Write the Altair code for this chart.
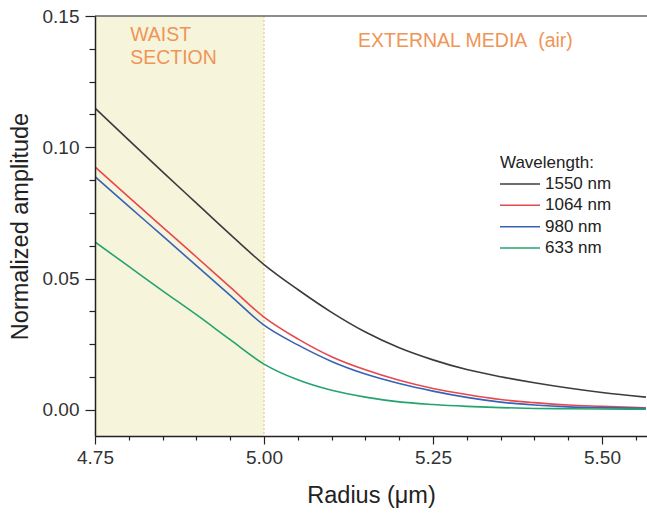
import altair as alt
import pandas as pd

# ---------------- data ----------------
radius = [4.75, 4.80, 4.85, 4.90, 4.95, 5.00, 5.05, 5.10, 5.15, 5.20,
          5.25, 5.30, 5.35, 5.40, 5.45, 5.50, 5.565]
amp_1550 = [0.1149, 0.1027, 0.0906, 0.0787, 0.0668, 0.0553, 0.0458, 0.0371, 0.0296, 0.0236,
            0.0190, 0.0153, 0.0126, 0.0103, 0.0083, 0.0066, 0.0048]
amp_1064 = [0.0925, 0.0810, 0.0696, 0.0582, 0.0467, 0.0353, 0.0270, 0.0202, 0.0152, 0.0112,
            0.0081, 0.0058, 0.0039, 0.0027, 0.0018, 0.0013, 0.0007]
amp_980 = [0.0888, 0.0775, 0.0662, 0.0549, 0.0436, 0.0322, 0.0247, 0.0184, 0.0136, 0.0100,
           0.0071, 0.0047, 0.0029, 0.0018, 0.0011, 0.0008, 0.0005]
amp_633 = [0.0639, 0.0546, 0.0453, 0.0362, 0.0267, 0.0174, 0.0114, 0.0074, 0.0048, 0.0030,
           0.0020, 0.0013, 0.0008, 0.0005, 0.0004, 0.0003, 0.0002]

wavelengths = ["1550 nm", "1064 nm", "980 nm", "633 nm"]
line_colors = ["#3c3c3c", "#e8474c", "#3763b4", "#23a36e"]

waist_start = [4.75]
waist_end = [5.00]

x_ticks = [4.75, 4.80, 4.85, 4.90, 4.95, 5.00, 5.05, 5.10, 5.15, 5.20,
           5.25, 5.30, 5.35, 5.40, 5.45, 5.50, 5.55]
y_ticks = [0.0, 0.0125, 0.025, 0.0375, 0.05, 0.0625, 0.075, 0.0875, 0.10,
           0.1125, 0.125, 0.1375, 0.15]

# ---------------- tables ----------------
rows = []
for name, vals in zip(wavelengths, [amp_1550, amp_1064, amp_980, amp_633]):
    for r, v in zip(radius, vals):
        rows.append({"radius": r, "amp": v, "wl": name})
df = pd.DataFrame(rows)
region_df = pd.DataFrame({"start": waist_start, "end": waist_end})
legend_df = pd.DataFrame({"wl": wavelengths})

FONT = "Liberation Sans"
ORANGE = "#ef9556"

xs = alt.Scale(domain=[4.75, 5.5666], nice=False, zero=False)
ys = alt.Scale(domain=[-0.01, 0.15], nice=False, zero=False)
cs = alt.Scale(domain=wavelengths, range=line_colors)

x_axis = alt.Axis(
    values=x_ticks,
    labelExpr="abs(datum.value*4 - round(datum.value*4)) < 1e-6 ? format(datum.value, '.2f') : ''",
    tickSize={"condition": {"test": "abs(datum.value*4 - round(datum.value*4)) < 1e-6", "value": 8}, "value": 4},
    labelFont=FONT, titleFont=FONT, labelFontSize=19, titleFontSize=23.5,
    labelColor="#333333", titleColor="#222222", titleFontWeight="normal",
    domainColor="#222222", domainWidth=1.5, tickColor="#222222", tickWidth=1.2,
    labelPadding=4, titlePadding=16, labelFlush=False, labelOverlap=False,
    grid=False, zindex=1,
)
y_axis = alt.Axis(
    values=y_ticks,
    labelExpr="abs(datum.value*20 - round(datum.value*20)) < 1e-6 ? format(datum.value, '.2f') : ''",
    tickSize={"condition": {"test": "abs(datum.value*20 - round(datum.value*20)) < 1e-6", "value": 10}, "value": 6},
    labelFont=FONT, titleFont=FONT, labelFontSize=19, titleFontSize=23.5,
    labelColor="#333333", titleColor="#222222", titleFontWeight="normal",
    domainColor="#222222", domainWidth=1.5, tickColor="#222222", tickWidth=1.2,
    labelPadding=6, titlePadding=10, labelFlush=False, labelOverlap=False,
    grid=False, zindex=1,
)

base = alt.Chart(region_df)
rect = base.mark_rect(fill="#f7f4dc").encode(
    x=alt.X("start:Q", scale=xs, axis=x_axis, title="Radius (μm)"),
    x2="end:Q",
    y=alt.Y(datum=0.15, scale=ys, axis=y_axis, title="Normalized amplitude"),
    y2=alt.datum(-0.01),
)
divider = base.mark_rule(color="#e6cb8c", strokeDash=[2, 2], strokeWidth=1.2).encode(
    x=alt.X("end:Q", scale=xs, axis=x_axis, title="Radius (μm)")
)
top_line = base.mark_rule(color="#666666", strokeWidth=1.5).encode(
    y=alt.Y(datum=0.15, scale=ys, axis=y_axis, title="Normalized amplitude")
)

lines = alt.Chart(df).mark_line(strokeWidth=1.6, interpolate="monotone", clip=True).encode(
    x=alt.X("radius:Q", scale=xs, axis=x_axis, title="Radius (μm)"),
    y=alt.Y("amp:Q", scale=ys, axis=y_axis, title="Normalized amplitude"),
    color=alt.Color("wl:N", scale=cs, legend=None),
)

txt = dict(font=FONT, fontSize=19.5, color=ORANGE, align="left", baseline="alphabetic")


def note(xv, yv, label):
    return base.mark_text(**txt).encode(
        x=alt.X(datum=xv, scale=xs, axis=x_axis, title="Radius (μm)"),
        y=alt.Y(datum=yv, scale=ys, axis=y_axis, title="Normalized amplitude"),
        text=alt.value(label),
    )


t_waist = note(4.802, 0.1405, "WAIST")
t_section = note(4.802, 0.1317, "SECTION")
t_ext = note(5.139, 0.1382, "EXTERNAL MEDIA\u00a0 (air)")

main = alt.layer(rect, divider, lines, top_line, t_waist, t_section, t_ext)

ly = alt.Y("wl:N", scale=alt.Scale(type="point", domain=wavelengths, range=[168, 232], padding=0), axis=None)
leg_base = alt.Chart(legend_df)
leg_rules = leg_base.mark_rule(strokeWidth=1.5).encode(
    x=alt.value(405), x2=alt.value(445), y=ly, color=alt.Color("wl:N", scale=cs, legend=None)
)
leg_text = leg_base.mark_text(font=FONT, fontSize=17, color="#222222", align="left", baseline="middle").encode(
    x=alt.value(450), y=ly, text="wl:N"
)
leg_title = alt.Chart(pd.DataFrame({"t": ["Wavelength:"]})).mark_text(
    font=FONT, fontSize=17, color="#222222", align="left", baseline="middle"
).encode(x=alt.value(405), y=alt.value(147), text="t:N")
legend = alt.layer(leg_rules, leg_text, leg_title)

chart = alt.layer(main, legend).resolve_scale(y="independent").properties(
    width=552, height=420,
    autosize=alt.AutoSizeParams(type="none"),
    padding={"left": 95, "top": 16, "right": 0, "bottom": 77},
    background="white",
).configure_view(stroke=None).configure_axis(labelOverlap=False)

chart.save("out.html", embed_options={"renderer": "svg", "actions": False})
